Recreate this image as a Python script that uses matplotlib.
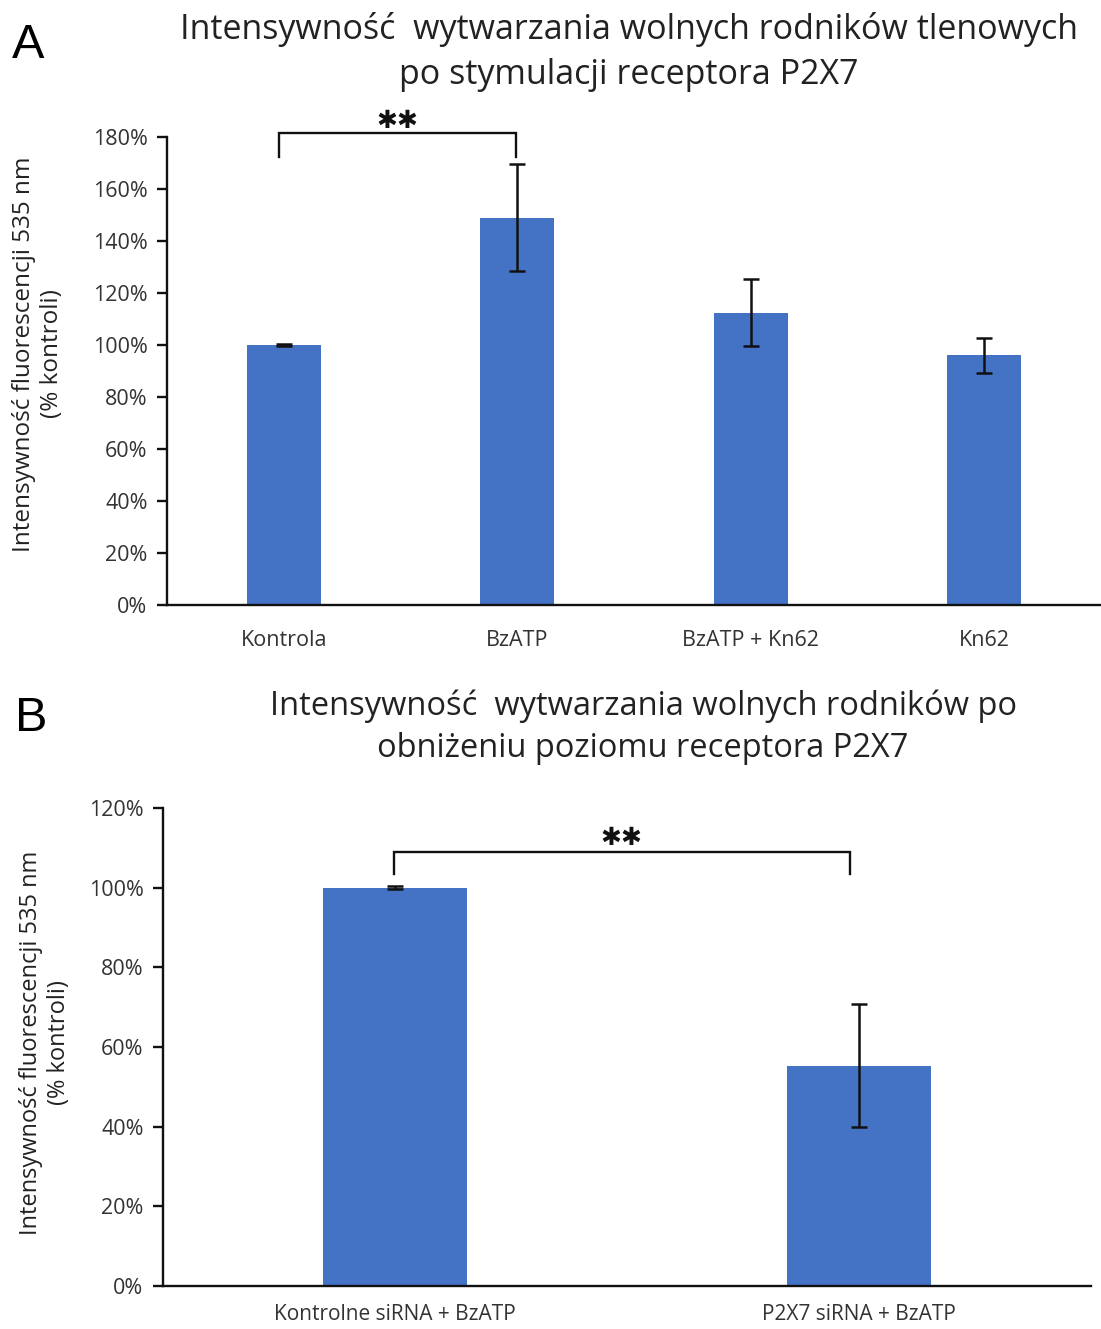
import matplotlib
matplotlib.use("Agg")
import matplotlib.pyplot as plt
from matplotlib.ticker import FuncFormatter

plt.rcParams['font.family'] = ['Open Sans', 'DejaVu Sans']

# ---- data ----
cats_a = ["Kontrola", "BzATP", "BzATP + Kn62", "Kn62"]
vals_a = [100.0, 149.0, 112.5, 96.0]
errs_a = [0.3, 20.5, 12.7, 6.8]

cats_b = ["Kontrolne siRNA + BzATP", "P2X7 siRNA + BzATP"]
vals_b = [100.0, 55.3]
errs_b = [0.3, 15.4]

title_a = "Intensywność  wytwarzania wolnych rodników tlenowych\npo stymulacji receptora P2X7"
title_b = "Intensywność  wytwarzania wolnych rodników po\nobniżeniu poziomu receptora P2X7"
ylabel = "Intensywność fluorescencji 535 nm\n(% kontroli)"

bar_color = "#4472C4"

fig = plt.figure(figsize=(11.01, 13.29), dpi=100)

pct = FuncFormatter(lambda v, p: f"{v:.0f}%")


def style_axes(ax):
    for s in ["top", "right"]:
        ax.spines[s].set_visible(False)
    for s in ["left", "bottom"]:
        ax.spines[s].set_linewidth(1.7)
        ax.spines[s].set_color("#111111")
    ax.yaxis.set_major_formatter(pct)
    ax.tick_params(axis="y", direction="out", length=7, width=1.7, labelsize=15.5,
                   colors="#111111", labelcolor="#333333", pad=7)
    ax.tick_params(axis="x", length=0, labelsize=15.5, labelcolor="#333333", pad=18)


def bracket(ax, x0, x1, ytop, yleg, ystar):
    ax.plot([x0, x0, x1, x1], [yleg, ytop, ytop, yleg], color="#111111", lw=1.7,
            clip_on=False, solid_joinstyle="miter")
    ax.text((x0 + x1) / 2 - 0.0, ystar, "✱✱", ha="center", va="center",
            fontsize=18, color="#111111", family=["DejaVu Sans"], clip_on=False)


# ---- panel A ----
axA = fig.add_axes([167 / 1101, 1 - 605 / 1329, (1101 - 167) / 1101, (605 - 137) / 1329])
xa = range(len(cats_a))
axA.bar(xa, vals_a, width=0.315, color=bar_color, zorder=2)
axA.errorbar(xa, vals_a, yerr=errs_a, fmt="none", ecolor="#111111", elinewidth=1.8,
             capsize=6, capthick=1.8, zorder=3)
axA.set_xlim(-0.5, len(cats_a) - 0.5)
axA.set_ylim(0, 180)
axA.set_yticks(range(0, 181, 20))
axA.set_xticks(list(xa))
axA.set_xticklabels(cats_a)
style_axes(axA)
bracket(axA, -0.02, 0.995, 181.5, 172.5, 186)
fig.text(38 / 1101, 1 - 354 / 1329, ylabel, rotation=90, ha="center", va="center",
         fontsize=17.5, color="#222222", linespacing=1.25)

fig.text(629 / 1101, 1 - 52 / 1329, title_a, ha="center", va="center", fontsize=24.5,
         color="#222222", linespacing=1.4)
fig.text(12 / 1101, 1 - 46 / 1329, "A", ha="left", va="center", fontsize=35, color="#000000",
         family=["Liberation Sans"])

# ---- panel B ----
axB = fig.add_axes([163 / 1101, 1 - 1286 / 1329, (1091 - 163) / 1101, (1286 - 808) / 1329])
xb = range(len(cats_b))
axB.bar(xb, vals_b, width=0.31, color=bar_color, zorder=2)
axB.errorbar(xb, vals_b, yerr=errs_b, fmt="none", ecolor="#111111", elinewidth=1.8,
             capsize=6, capthick=1.8, zorder=3)
axB.set_xlim(-0.5, len(cats_b) - 0.5)
axB.set_ylim(0, 120)
axB.set_yticks(range(0, 121, 20))
axB.set_xticks(list(xb))
axB.set_xticklabels(cats_b)
style_axes(axB)
axB.tick_params(axis="x", pad=13, labelsize=15)
bracket(axB, -0.002, 0.98, 109.0, 103.5, 112.5)
fig.text(45 / 1101, 1 - 1043 / 1329, ylabel, rotation=90, ha="center", va="center",
         fontsize=17, color="#222222", linespacing=1.25)

fig.text(643 / 1101, 1 - 727 / 1329, title_b, ha="center", va="center", fontsize=23.5,
         color="#222222", linespacing=1.35)
fig.text(15 / 1101, 1 - 719 / 1329, "B", ha="left", va="center", fontsize=35, color="#000000",
         family=["Liberation Sans"])

fig.savefig("out.png", dpi=100, facecolor="white")
